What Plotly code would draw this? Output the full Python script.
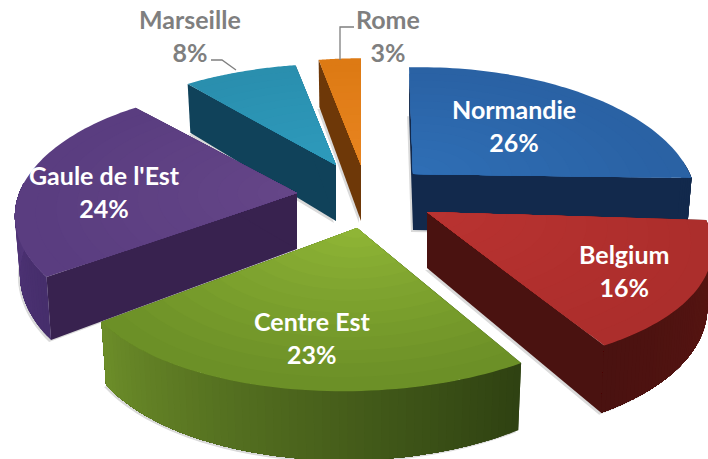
import numpy as np
import plotly.graph_objects as go

# ---- data ----
categories = ["Normandie", "Belgium", "Centre Est", "Gaule de l'Est", "Marseille", "Rome"]
shares = [26, 16, 23, 24, 8, 3]

# ---- styling / layout ----
W, H = 708, 459
RX, RY, PERSP_X, PERSP_Y, DEPTH = 275.0, 127.0, 0.22, 0.19, 56.0
apex = {"Normandie": (413, 174), "Belgium": (427, 212), "Centre Est": (357, 228),
        "Gaule de l'Est": (297, 193), "Marseille": (336, 165), "Rome": (361, 165)}
# small per-slice corrections of the projection: x scale, shear of x by depth, y scale, tilt of y by x
rx_scale = {"Normandie": 1, "Belgium": 1, "Centre Est": 1, "Gaule de l'Est": 1.01, "Marseille": 1, "Rome": 1}
shear = {"Normandie": -4, "Belgium": -15, "Centre Est": 0, "Gaule de l'Est": -13, "Marseille": 2, "Rome": 0}
ry_scale = {"Normandie": 1, "Belgium": 1, "Centre Est": 1.04, "Gaule de l'Est": 1, "Marseille": 0.95, "Rome": 1}
tilt = {"Normandie": -4, "Belgium": 0, "Centre Est": -8, "Gaule de l'Est": 0, "Marseille": 0, "Rome": 0}
top_in = {"Normandie": "#2F6EB5", "Belgium": "#B93331", "Centre Est": "#8FB536",
          "Gaule de l'Est": "#654688", "Marseille": "#2E9ABB", "Rome": "#E8841F"}
top_out = {"Normandie": "#2A62A4", "Belgium": "#AC2E2C", "Centre Est": "#6C9027",
           "Gaule de l'Est": "#5A3D80", "Marseille": "#2A8FAE", "Rome": "#DD7A14"}
wall = {"Normandie": "#12294C", "Belgium": "#4A1210", "Centre Est": "#33461A",
        "Gaule de l'Est": "#38224F", "Marseille": "#10425A", "Rome": "#6E3808"}
side_a = {"Normandie": "#12294C", "Belgium": "#5C1613", "Centre Est": "#2F4212",
          "Gaule de l'Est": "#462E6C", "Marseille": "#10425A", "Rome": "#6E3808"}
side_b = {"Normandie": "#12294C", "Belgium": "#4A1210", "Centre Est": "#6E8F2A",
          "Gaule de l'Est": "#65448F", "Marseille": "#10425A", "Rome": "#6E3808"}
label_pos = {"Normandie": (514, 125), "Belgium": (624, 270), "Centre Est": (312, 337),
             "Gaule de l'Est": (104, 191), "Marseille": (190, 35), "Rome": (388, 35)}
label_col = {"Normandie": "white", "Belgium": "white", "Centre Est": "white",
             "Gaule de l'Est": "white", "Marseille": "#7F7F7F", "Rome": "#7F7F7F"}
# draw order: back to front
order = ["Rome", "Marseille", "Normandie", "Gaule de l'Est", "Belgium", "Centre Est"]


def hex2rgb(c):
    return np.array([int(c[i:i + 2], 16) for i in (1, 3, 5)], float)


def mix(a, b, t):
    v = hex2rgb(a) * (1 - t) + hex2rgb(b) * t
    return "rgb(%d,%d,%d)" % tuple(v)


def project(k, theta, r=1.0, drop=0.0):
    """Map a point of the unit pie (clockwise angle from 12 o'clock) to the page."""
    c = apex[k]
    X, Y = r * np.sin(theta), r * np.cos(theta)
    sx = 1 / (1 + PERSP_X * Y)
    sy = 1 / (1 + PERSP_Y * Y)
    shrink = 1 - 0.018 * drop / DEPTH
    px = (RX * rx_scale[k] * X * sx + shear[k] * Y) * shrink
    py = -RY * ry_scale[k] * Y * sy + tilt[k] * X + drop * sy
    return c[0] + px, c[1] + py


fig = go.Figure()


def poly(pts, color):
    xs = [p[0] for p in pts] + [pts[0][0]]
    ys = [p[1] for p in pts] + [pts[0][1]]
    fig.add_trace(go.Scatter(x=xs, y=ys, mode="none", fill="toself", fillcolor=color,
                             hoverinfo="skip", showlegend=False))


def wall_poly(k, th, color):
    poly([project(k, th, 0), project(k, th, 1), project(k, th, 1, DEPTH), project(k, th, 0, DEPTH)], color)


edges = np.cumsum([0] + shares) / sum(shares) * 2 * np.pi
span = {k: (edges[i], edges[i + 1]) for i, k in enumerate(categories)}

# soft shadows under the solids
for k in order:
    a, b = span[k]
    pts = [project(k, t, 1, DEPTH) for t in np.linspace(a, b, 60)] + [project(k, 0, 0, DEPTH)]
    poly([(p[0] - 2, p[1] + 2) for p in pts], "rgb(218,218,218)")

for k in order:
    a, b = span[k]
    wall_poly(k, a, wall[k])
    wall_poly(k, b, wall[k])
    # outer rim: nested bands so that no seams show between the shades
    ts = [t for t in np.linspace(a, b, 61) if np.cos(t) < 0.08]
    for i in range(len(ts) - 1):
        rim = ts[i:]
        pts = [project(k, t, 1) for t in rim] + [project(k, t, 1, DEPTH) for t in rim[::-1]]
        poly(pts, mix(side_a[k], side_b[k], (ts[i] - a) / (b - a)))
    # top face, nested wedges for the gradient
    n = 14
    for j in range(n):
        r = 1 - j / n
        pts = [project(k, t, r) for t in np.linspace(a, b, 60)] + [project(k, 0, 0)]
        poly(pts, mix(top_out[k], top_in[k], j / (n - 1)))

annotations = []
for k, v in zip(categories, shares):
    x, y = label_pos[k]
    annotations.append(dict(x=x, y=y, xref="x", yref="y", text=f"<b>{k}<br>{v}%</b>", showarrow=False,
                            align="center", font=dict(family="Lato", size=25, color=label_col[k])))

leaders = [
    dict(type="path", path="M 211 60 L 222 60 L 236 70", line=dict(color="#7F7F7F", width=1.3)),
    dict(type="path", path="M 354 27 L 340 27 L 340 60", line=dict(color="#7F7F7F", width=1.3)),
]

fig.update_layout(
    width=W, height=H, margin=dict(l=0, r=0, t=0, b=0), paper_bgcolor="white", plot_bgcolor="white",
    xaxis=dict(range=[0, W], visible=False, fixedrange=True),
    yaxis=dict(range=[H, 0], visible=False, fixedrange=True),
    annotations=annotations, shapes=leaders, showlegend=False,
)
fig.write_html("out.html", config={"displayModeBar": False},
               post_script="document.body.style.margin='0';")
